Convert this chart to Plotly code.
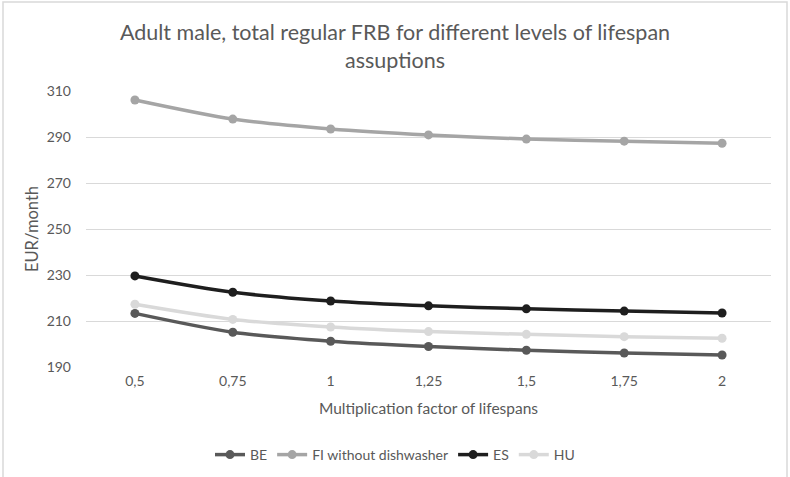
import plotly.graph_objects as go

categories = ["0,5", "0,75", "1", "1,25", "1,5", "1,75", "2"]
be = [213.3, 205.1, 201.2, 198.9, 197.3, 196.1, 195.2]
fi = [306.1, 297.8, 293.5, 290.9, 289.1, 288.2, 287.3]
es = [229.6, 222.5, 218.7, 216.6, 215.3, 214.3, 213.5]
hu = [217.3, 210.7, 207.4, 205.4, 204.2, 203.2, 202.5]

series = [
    ("BE", be, "#595959"),
    ("FI without dishwasher", fi, "#a5a5a5"),
    ("ES", es, "#1e1e1e"),
    ("HU", hu, "#d9d9d9"),
]

FONT = "Lato, Open Sans, sans-serif"

fig = go.Figure()
for name, vals, col in series:
    fig.add_trace(go.Scatter(
        x=categories, y=vals, name=name, mode="lines+markers",
        line=dict(color=col, width=3.5, shape="spline", smoothing=0.8),
        marker=dict(color=col, size=9),
    ))

fig.update_layout(
    width=790, height=477,
    paper_bgcolor="white", plot_bgcolor="white",
    margin=dict(l=86, r=19, t=91, b=110),
    font=dict(family=FONT, color="#595959", size=14),
    title=dict(
        text="Adult male, total regular FRB for different levels of lifespan<br>assuptions",
        x=0.5, xref="container", xanchor="center",
        y=1 - 40 / 477, yref="container", yanchor="top",
        font=dict(family=FONT, size=21.5, color="#595959"),
    ),
    xaxis=dict(
        type="category", range=[-0.5, 6.5], showgrid=False, zeroline=False,
        showline=False, ticks="", ticklabelstandoff=4,
        title=dict(text="Multiplication factor of lifespans", standoff=15,
                   font=dict(size=15.5)),
        tickfont=dict(size=14),
    ),
    yaxis=dict(
        range=[190, 310], tickvals=[190, 210, 230, 250, 270, 290, 310],
        showgrid=True, gridcolor="#d9d9d9", gridwidth=1, zeroline=False,
        showline=False, ticks="", ticklabelstandoff=14,
        title=dict(text="EUR/month", standoff=3, font=dict(size=16.5)),
        tickfont=dict(size=14),
    ),
    legend=dict(
        orientation="h", x=0.5, xanchor="center", xref="container",
        y=22 / 477, yref="container", yanchor="middle",
        font=dict(size=14), itemwidth=30,
    ),
    showlegend=True,
)

# chart border (light grey frame)
fig.add_shape(type="rect", xref="paper", yref="paper",
              x0=(3 - 86) / 685, x1=(787 - 86) / 685,
              y0=-0.6, y1=(367 - 2) / 276,
              line=dict(color="#d9d9d9", width=1.5), fillcolor="rgba(0,0,0,0)",
              layer="below")

fig.write_html("out.html", config={"displayModeBar": False},
               post_script="document.body.style.margin='0';")
